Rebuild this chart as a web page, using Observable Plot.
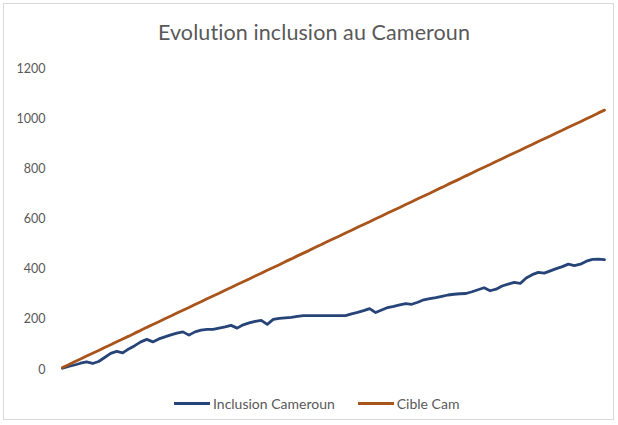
<!DOCTYPE html>
<html>
<head>
<meta charset="utf-8">
<script src="https://cdn.jsdelivr.net/npm/d3@7"></script>
<script src="https://cdn.jsdelivr.net/npm/@observablehq/plot@0.6"></script>
<style>
  html, body { margin: 0; padding: 0; background: #fff; }
  #wrap { position: relative; width: 618px; height: 425px; overflow: hidden; font-family: Lato, "Open Sans", sans-serif; }
  #frame { position: absolute; left: 3px; top: 3px; width: 611px; height: 417px; border: 1px solid #d9d9d9; box-sizing: border-box; }
  #title { position: absolute; left: 5px; width: 618px; top: 19px; text-align: center; font-size: 21.5px; color: #595959; letter-spacing: 0.1px; }
  #chart { position: absolute; left: 0; top: 55px; }
  #legend { position: absolute; left: 174px; top: 395px; display: flex; gap: 23px; font-size: 14px; color: #595959; white-space: nowrap; }
  .item { display: flex; align-items: center; }
  .sw { display: inline-block; width: 36px; height: 3px; margin-right: 3px; }
</style>
</head>
<body>
<div id="wrap">
  <div id="frame"></div>
  <div id="title">Evolution inclusion au Cameroun</div>
  <div id="chart"></div>
  <div id="legend"></div>
</div>
<script>
const seriesNames = ["Inclusion Cameroun", "Cible Cam"];
const seriesColors = ["#264478", "#A9541B"];
const yTicks = [0, 200, 400, 600, 800, 1000, 1200];

const inclusion = [5, 12, 18, 25, 30, 24, 32, 48, 64, 72,
  66, 82, 95, 110, 120, 110, 122, 130, 138, 145,
  150, 137, 150, 157, 160, 160, 165, 170, 176, 165,
  178, 186, 192, 196, 180, 200, 204, 206, 208, 212,
  215, 215, 215, 215, 215, 215, 215, 215, 222, 228,
  235, 243, 227, 237, 247, 252, 258, 263, 260, 268,
  278, 283, 287, 292, 297, 300, 302, 303, 310, 318,
  326, 314, 320, 333, 340, 347, 343, 365, 378, 387,
  384, 393, 402, 410, 420, 414, 420, 432, 439, 440, 438];

const cible = [8, 19, 31, 42, 54, 65, 76, 88, 99, 111,
  122, 133, 145, 156, 168, 179, 190, 202, 213, 225,
  236, 247, 259, 270, 282, 293, 304, 316, 327, 339,
  350, 361, 373, 384, 396, 407, 418, 430, 441, 453,
  464, 475, 487, 498, 510, 521, 532, 544, 555, 567,
  578, 589, 601, 612, 624, 635, 646, 658, 669, 681,
  692, 703, 715, 726, 738, 749, 760, 772, 783, 795,
  806, 817, 829, 840, 852, 863, 874, 886, 897, 909,
  920, 931, 943, 954, 966, 977, 988, 1000, 1011, 1023, 1034];

const data = [
  ...inclusion.map((v, i) => ({ period: i + 1, value: v, series: seriesNames[0] })),
  ...cible.map((v, i) => ({ period: i + 1, value: v, series: seriesNames[1] }))
];

const chart = Plot.plot({
  width: 618,
  height: 330,
  marginLeft: 62,
  marginRight: 14,
  marginTop: 13,
  marginBottom: 16,
  style: { fontFamily: "Lato, 'Open Sans', sans-serif", fontSize: "12px", color: "#595959", background: "transparent" },
  x: { axis: null, domain: [1, inclusion.length] },
  y: { axis: null, domain: [0, 1200] },
  color: { domain: seriesNames, range: seriesColors },
  marks: [
    Plot.axisY({ ticks: yTicks, tickFormat: d => String(d), tickSize: 0, tickPadding: 17, label: null, fill: "#595959", fontSize: 12.5 }),
    Plot.line(data, { x: "period", y: "value", z: "series", stroke: "series", strokeWidth: 2.8, strokeLinejoin: "round", strokeLinecap: "round" })
  ]
});
document.getElementById("chart").appendChild(chart);

const legend = document.getElementById("legend");
seriesNames.forEach((name, i) => {
  const item = document.createElement("div");
  item.className = "item";
  const sw = document.createElement("span");
  sw.className = "sw";
  sw.style.background = seriesColors[i];
  const label = document.createElement("span");
  label.textContent = name;
  item.appendChild(sw);
  item.appendChild(label);
  legend.appendChild(item);
});
</script>
</body>
</html>
